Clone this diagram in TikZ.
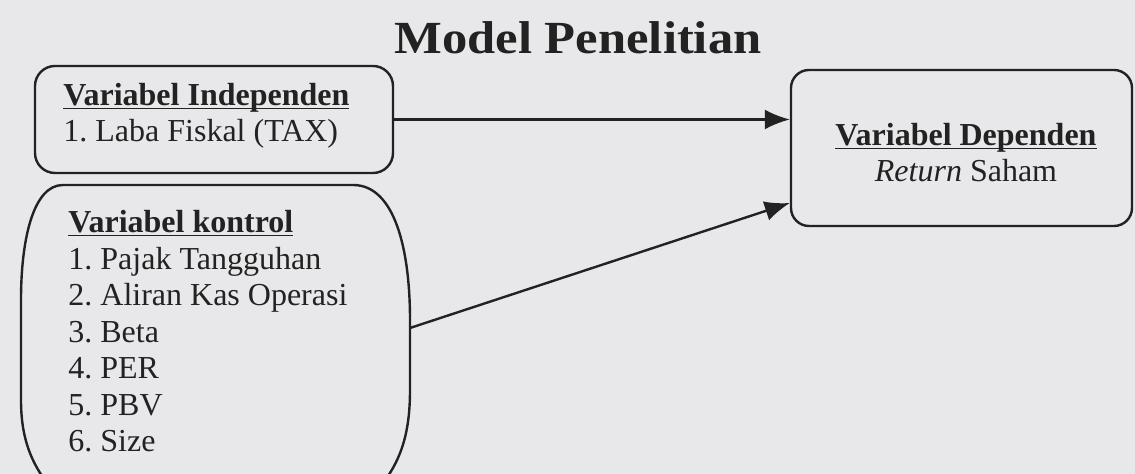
\documentclass[tikz,border=0pt]{standalone}
\usepackage{fontspec}
\setmainfont{Liberation Serif}
\usetikzlibrary{arrows.meta,calc}
\definecolor{paper}{HTML}{E8E8EA}
\definecolor{ink}{HTML}{222222}
\newcommand\myul[1]{\underline{\smash{#1}}}
\frenchspacing
\begin{document}
\begin{tikzpicture}[x=0.5pt,y=-0.5pt,
  txt/.style={font=\fontsize{16}{18}\selectfont\frenchspacing, inner sep=0pt, text=ink},
  boxline/.style={draw=ink, line width=1.2pt},
  conn/.style={draw=ink, line width=1.2pt, -{Latex[length=12.5pt,width=10pt]}}]
\useasboundingbox (0,0) rectangle (1135,474);
\fill[paper] (0,0) rectangle (1135,474);
% title
\node[txt, anchor=base, font=\fontsize{23}{27}\selectfont\bfseries] (title) at (578,54) {\scalebox{1.1}[1]{Model Penelitian}};
% box 1
\node[boxline, rounded corners=10pt, minimum width=179pt, minimum height=53.5pt, inner sep=0pt] (b1) at (214,119.5) {};
\node[txt, anchor=base west] (b1a) at (63,106) {\bfseries\myul{Variabel Independen}};
\node[txt, anchor=base west] (b1b) at (63,142) {1. Laba Fiskal (TAX)};
% box 3
\node[boxline, rounded corners=9pt, minimum width=170.5pt, minimum height=78pt, inner sep=0pt] (b3) at (961.5,148) {};
\node[txt, anchor=base] (b3a) at (966,146) {\bfseries\myul{Variabel Dependen}};
\node[txt, anchor=base] (b3b) at (966,182) {\textit{Return} Saham};
% box 2 (cut at the bottom)
\begin{scope}
\clip (0,0) rectangle (1135,474);
\draw[boxline] (63,185) -- (353,185)
  .. controls (395,185) and (410,250) .. (410,320) -- (410,390)
  .. controls (410,440) and (398,470) .. (368,500) -- (62,500)
  .. controls (32,470) and (21,440) .. (21,400) -- (21,300)
  .. controls (21,240) and (33,185) .. cycle;
\end{scope}
\coordinate (k) at (410,328);
\node[txt, anchor=base west] (k0) at (68,233) {\bfseries\myul{Variabel kontrol}};
\node[txt, anchor=base west] (k1) at (68,270) {1. Pajak Tangguhan};
\node[txt, anchor=base west] (k2) at (68,306) {2. Aliran Kas Operasi};
\node[txt, anchor=base west] (k3) at (68,343) {3. Beta};
\node[txt, anchor=base west] (k4) at (68,379) {4. PER};
\node[txt, anchor=base west] (k5) at (68,416) {5. PBV};
\node[txt, anchor=base west] (k6) at (68,452) {6. Size};
% connectors
\draw[conn] (b1.east) -- (b1.east -| b3.west);
\draw[conn] (k) -- ($(b3.west)+(0,55)$);
\end{tikzpicture}
\end{document}
